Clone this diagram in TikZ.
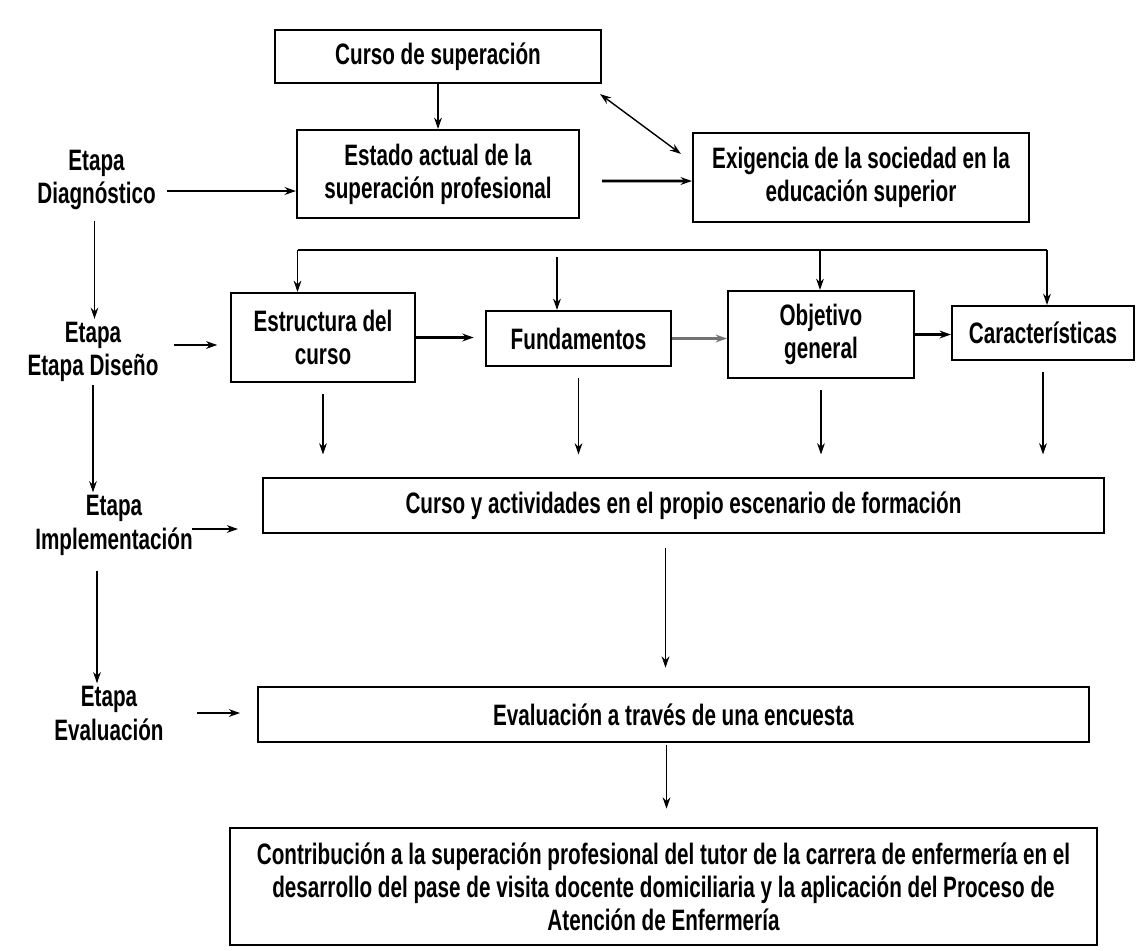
\documentclass[tikz,border=0pt]{standalone}
\usepackage{fontspec}
\setmainfont{Liberation Sans}[FakeStretch=0.7]
\usetikzlibrary{positioning,arrows.meta,calc}

\begin{document}
\begin{tikzpicture}[x=0.025cm, y=-0.025cm, >={Stealth[length=8pt,width=5.5pt]},
    box/.style={draw, line width=1.5pt, align=center, inner sep=0pt,
        font=\fontsize{21}{23.5}\selectfont\bfseries},
    dims/.style 2 args={minimum width=#1*0.025cm, minimum height=#2*0.025cm},
    etapa/.style={align=center, inner sep=2pt, font=\fontsize{21}{24}\selectfont\bfseries},
    flecha/.style={->, line width=1pt},
    grueso/.style={->, line width=2pt}]
    \useasboundingbox (0,0) rectangle (1138,950);

    % cajas
    \node[box, dims={326}{53}] (cs) at (438,56.5) {Curso de superación};
    \node[box, dims={282}{88}] (ea) at (438,174) {Estado actual de la\\superación profesional};
    \node[box, dims={336}{89}] (es) at (861,177.5) {Exigencia de la sociedad en la\\educación superior};

    \node[box, dims={184}{89}] (ec) at (323,337.5) {Estructura del\\curso};
    \node[box, dims={185}{55}] (fu) at (578.5,338.5) {Fundamentos};
    \node[box, dims={186}{87}] (og) at (821,334.5) {Objetivo\\general};
    \node[box, dims={182}{54}] (ca) at (1043,333) {Características};

    \node[box, dims={841}{55}] (ac) at (683.5,505.5) {Curso y actividades en el propio escenario de formación};
    \node[box, dims={831}{55}] (ev) at (673.5,714.5) {Evaluación a través de una encuesta};
    \node[box, dims={867}{117}] (co) at (663.5,886.5) {Contribución a la superación profesional del tutor de la carrera de enfermería en el\\
        desarrollo del pase de visita docente domiciliaria y la aplicación del Proceso de\\
        Atención de Enfermería};

    % etapas
    \node[etapa] (lDiag) at (96.5,180) {Etapa\\Diagnóstico};
    \node[etapa] (lDis) at (93,352) {Etapa\\Etapa Diseño};
    \node[etapa] (lImp) at (114,525.5) {Etapa\\Implementación};
    \node[etapa] (lEva) at (109,713.5) {Etapa\\Evaluación};

    % diagnostico
    \draw[flecha] (cs) -- (ea);
    \draw[<->, line width=1pt] ([shift={(-2,10)}]cs.south east) -- ([shift={(-11,22)}]es.north west);
    \draw[grueso] ([shift={(22,7)}]ea.east) -- ([shift={(0,3.5)}]es.west);
    \coordinate (dgo) at (167,191);
    \draw[grueso] (dgo) -- (dgo -| ea.west);

    % diseno
    \coordinate (b1) at (297.5,250);
    \coordinate (b2) at (557,250);
    \coordinate (b3) at (820,250);
    \coordinate (b4) at (1047,250);
    \draw[line width=1.5pt] (b1) -- (b4);
    \draw[flecha] (b1) -- (b1 |- ec.north);
    \draw[flecha] ([shift={(0,7)}]b2) -- (b2 |- fu.north);
    \draw[flecha] (b3) -- (b3 |- og.north);
    \draw[flecha] (b4) -- (b4 |- ca.north);
    \coordinate (dso) at (174,345);
    \draw[grueso, shorten >=9pt] (dso) -- (dso -| ec.west);
    \draw[grueso, shorten >=8pt] (ec.east) -- (ec.east -| fu.west);
    \draw[grueso, black!55] (fu.east) -- (fu.east -| og.west);
    \draw[grueso] (og.east) -- (og.east -| ca.west);
    \foreach \n in {ec,fu,og,ca}
        \draw[flecha, shorten <=8pt, shorten >=16pt] (\n.south) -- (\n.south |- ac.north);

    % implementacion y evaluacion
    \coordinate (imo) at (192,529);
    \draw[grueso, shorten >=17pt] (imo) -- (imo -| ac.west);
    \coordinate (evo) at (197,713);
    \draw[grueso, shorten >=12pt] (evo) -- (evo -| ev.west);
    \draw[flecha] ([shift={(-2,8)}]lDiag.south) -- ([shift={(-2,0)}]lDiag.south |- lDis.north);
    \draw[flecha] (lDis.south) -- (lDis.south |- lImp.north);
    \draw[flecha] ([shift={(-17,12)}]lImp.south) -- ([shift={(-17,0)}]lImp.south |- lEva.north);
    \draw[flecha, shorten <=10pt, shorten >=13pt] ([shift={(-18,0)}]ac.south) -- ([shift={(-18,0)}]ac.south |- ev.north);
    \draw[flecha, shorten >=13pt] ([shift={(-7,2)}]ev.south) -- ([shift={(-7,0)}]ev.south |- co.north);
\end{tikzpicture}
\end{document}
